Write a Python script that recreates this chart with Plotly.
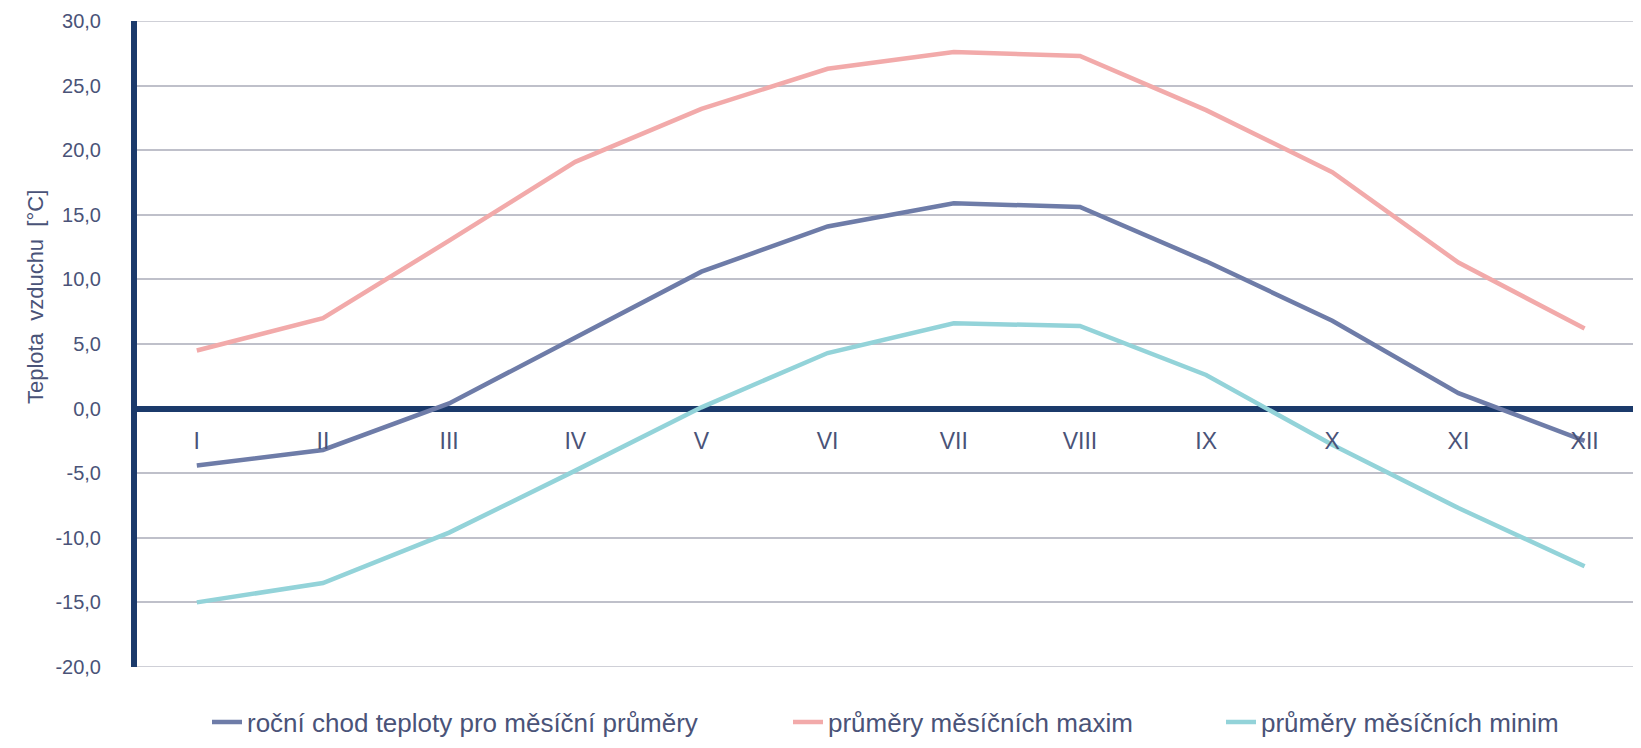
import plotly.graph_objects as go

months = ["I", "II", "III", "IV", "V", "VI", "VII", "VIII", "IX", "X", "XI", "XII"]
mean_temp = [-4.4, -3.2, 0.4, 5.5, 10.6, 14.1, 15.9, 15.6, 11.4, 6.8, 1.2, -2.5]
max_temp = [4.5, 7.0, 13.0, 19.1, 23.2, 26.3, 27.6, 27.3, 23.1, 18.3, 11.3, 6.2]
min_temp = [-15.0, -13.5, -9.6, -4.8, 0.1, 4.3, 6.6, 6.4, 2.6, -2.8, -7.7, -12.2]

y_ticks = [-20, -15, -10, -5, 0, 5, 10, 15, 20, 25, 30]
y_ticktext = ["-20,0", "-15,0", "-10,0", "-5,0", "0,0", "5,0", "10,0", "15,0", "20,0", "25,0", "30,0"]

names = ["roční chod teploty pro měsíční průměry", "průměry měsíčních maxim", "průměry měsíčních minim"]
colors = ["#6E7CA8", "#F2AAAA", "#93D3D9"]

NAVY = "#1B3A6B"
TEXT = "#4A5378"
GRID = "#BFC0CA"
FONT = "Liberation Sans, Arial, sans-serif"

fig = go.Figure()
series = [mean_temp, max_temp, min_temp]
legends = ["legend", "legend2", "legend3"]
for s, n, c, lg in zip(series, names, colors, legends):
    fig.add_trace(go.Scatter(x=months, y=s, name=n, mode="lines",
                             line=dict(color=c, width=4.5), legend=lg))

W, H = 1633, 740
L, R, T, B = 129, 0, 13, 81
pw = W - L - R
ph = H - T - B

def px_x(x):
    return (x - L) / pw

def px_y(y):
    return (H - B - y) / ph

legfont = dict(family=FONT, size=26, color=TEXT)
leg_common = dict(orientation="h", xanchor="left", yanchor="middle",
                  font=legfont, bgcolor="rgba(0,0,0,0)")

y_lo, y_hi = y_ticks[0], y_ticks[-1]
zero_pos = (0 - y_lo) / (y_hi - y_lo)

# edge gridlines (plotly omits gridlines at the exact range ends)
for yv in (y_lo, y_hi):
    fig.add_hline(y=yv, line=dict(color=GRID, width=1.5), layer="below")

fig.update_layout(
    width=W, height=H,
    margin=dict(l=L, r=R, t=T, b=B),
    paper_bgcolor="white", plot_bgcolor="white",
    showlegend=True,
    legend=dict(x=px_x(199), y=px_y(714), **leg_common),
    legend2=dict(x=px_x(780), y=px_y(714), **leg_common),
    legend3=dict(x=px_x(1213), y=px_y(714), **leg_common),
    xaxis=dict(type="category", range=[-0.474, 11.447], showgrid=False,
               showline=False, zeroline=False, ticks="",
               anchor="free", position=zero_pos, side="bottom",
               ticklabelstandoff=16,
               tickfont=dict(family=FONT, size=23, color=TEXT)),
    yaxis=dict(range=[y_lo, y_hi], tickvals=y_ticks, ticktext=y_ticktext,
               showgrid=True, gridcolor=GRID, gridwidth=1.5,
               zeroline=True, zerolinecolor=NAVY, zerolinewidth=6,
               showline=True, linecolor=NAVY, linewidth=6,
               ticks="", ticklabelstandoff=26,
               tickfont=dict(family=FONT, size=20, color=TEXT)),
    annotations=[dict(text="Teplota  vzduchu  [°C]", textangle=-90,
                      xref="paper", yref="paper", x=px_x(27), y=px_y(289),
                      xanchor="center", yanchor="middle", showarrow=False,
                      font=dict(family=FONT, size=22, color=TEXT))],
)

fig.write_html("out.html")
